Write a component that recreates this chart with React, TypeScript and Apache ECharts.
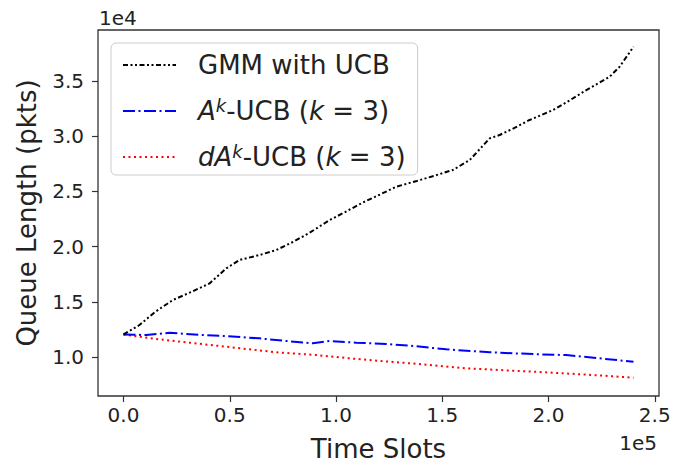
import React, { useEffect, useRef } from 'react';
import * as echarts from 'echarts';

const FONT = 'DejaVu Sans';
const TEXT = '#222222';

const seriesNames = ['GMM with UCB', 'Ak-UCB (k=3)', 'dAk-UCB (k=3)'];

const xGmm = [0, 7500, 15000, 23200, 32000, 40500, 48400, 54600, 64000, 71900, 80000, 87600, 97000, 104000, 112700, 120500, 128400, 138000, 146000, 155000, 162900, 172300, 177000, 184000, 191100, 202100, 210000, 217800, 228800, 233500, 240000];
const yGmm = [12050, 12900, 14100, 15160, 15900, 16670, 18030, 18790, 19240, 19690, 20450, 21260, 22400, 23100, 24000, 24700, 25430, 25950, 26400, 26940, 27840, 29800, 30110, 30750, 31470, 32370, 33250, 34180, 35390, 36300, 38100];

const xAk = [0, 10700, 21700, 37300, 48400, 64000, 75000, 89100, 97000, 109500, 123700, 136200, 151900, 172300, 183300, 195900, 208400, 224100, 240000];
const yAk = [12050, 11990, 12200, 11990, 11900, 11690, 11480, 11240, 11450, 11300, 11180, 11000, 10700, 10430, 10340, 10240, 10180, 9880, 9570];

const xDAk = [0, 16900, 31100, 48400, 71900, 90700, 106400, 123700, 140900, 161300, 183300, 202100, 220900, 240000];
const yDAk = [12050, 11600, 11300, 10930, 10430, 10180, 9880, 9600, 9340, 8980, 8760, 8580, 8370, 8130];

const xTicks = [0, 50000, 100000, 150000, 200000, 250000];
const yTicks = [10000, 15000, 20000, 25000, 30000, 35000];

const zip = (xs: number[], ys: number[]) => xs.map((x, i) => [x, ys[i]]);

const legendRich: Record<string, string> = {
  'GMM with UCB': '{sp| }{n|GMM with UCB}',
  'Ak-UCB (k=3)': '{sp| }{i|A}{sup|k}{n|-UCB (}{i|k}{n| = 3)}',
  'dAk-UCB (k=3)': '{sp| }{i|dA}{sup|k}{n|-UCB (}{i|k}{n| = 3)}',
};

export default function App() {
  const ref = useRef<HTMLDivElement>(null);
  useEffect(() => {
    const chart = echarts.init(ref.current!, null, { renderer: 'svg' });
    const option: any = {
      animation: false,
      backgroundColor: '#ffffff',
      textStyle: { fontFamily: FONT },
      grid: {
        left: 98, right: 14, top: 30, bottom: 69,
        show: true, borderColor: '#333333', borderWidth: 1.3,
        backgroundColor: 'transparent',
        outerBoundsMode: 'none',
      },
      xAxis: {
        type: 'value', min: -12000, max: 252000,
        splitLine: { show: false },
        axisLine: { show: false, onZero: false },
        axisTick: { show: true, length: 6, lineStyle: { color: '#333333', width: 1.2 }, customValues: xTicks },
        axisLabel: {
          customValues: xTicks,
          formatter: (v: number) => (v / 1e5).toFixed(1),
          fontSize: 20, color: TEXT, margin: 9, fontFamily: FONT,
        },
        name: 'Time Slots', nameLocation: 'middle', nameGap: 40,
        nameTextStyle: { fontSize: 26, color: TEXT, fontFamily: FONT },
      },
      yAxis: {
        type: 'value', min: 6470, max: 39620,
        splitLine: { show: false },
        axisLine: { show: false, onZero: false },
        axisTick: { show: true, length: 6, lineStyle: { color: '#333333', width: 1.2 }, customValues: yTicks },
        axisLabel: {
          customValues: yTicks,
          formatter: (v: number) => (v / 1e4).toFixed(1),
          fontSize: 20, color: TEXT, margin: 14, fontFamily: FONT,
        },
        name: 'Queue Length (pkts)', nameLocation: 'middle', nameGap: 58,
        nameTextStyle: { fontSize: 26, color: TEXT, fontFamily: FONT },
      },
      legend: {
        orient: 'vertical', left: 111, top: 43,
        padding: [7, 12, 3, 11],
        itemGap: 16, itemWidth: 53, itemHeight: 14,
        backgroundColor: 'rgba(255,255,255,0.8)',
        borderColor: '#cccccc', borderWidth: 1, borderRadius: 5,
        itemStyle: { opacity: 0 },
        data: seriesNames,
        formatter: (name: string) => legendRich[name],
        textStyle: {
          fontSize: 26, color: TEXT, fontFamily: FONT, lineHeight: 30,
          rich: {
            sp: { width: 17, fontSize: 26, lineHeight: 30 },
            n: { fontSize: 26, color: TEXT, fontFamily: FONT, lineHeight: 30 },
            i: { fontSize: 26, color: TEXT, fontFamily: FONT, fontStyle: 'italic', lineHeight: 30 },
            sup: { fontSize: 18, color: TEXT, fontFamily: FONT, fontStyle: 'italic', lineHeight: 18, verticalAlign: 'top' },
          },
        },
      },
      graphic: [
        { type: 'text', left: 99, top: 8, style: { text: '1e4', fontSize: 20, fill: TEXT, fontFamily: FONT } },
        { type: 'text', right: 16, top: 433, style: { text: '1e5', fontSize: 20, fill: TEXT, fontFamily: FONT } },
      ],
      series: [
        {
          name: seriesNames[0], type: 'line', data: zip(xGmm, yGmm), symbol: 'none', smooth: false,
          lineStyle: { color: '#000000', width: 2, type: [5, 2.5, 2, 2.5, 2, 2.5] },
          itemStyle: { color: '#000000' }, z: 3,
        },
        {
          name: seriesNames[1], type: 'line', data: zip(xAk, yAk), symbol: 'none', smooth: false,
          lineStyle: { color: '#0000ff', width: 2, type: [12, 3.5, 2, 3.5] },
          itemStyle: { color: '#0000ff' }, z: 2,
        },
        {
          name: seriesNames[2], type: 'line', data: zip(xDAk, yDAk), symbol: 'none', smooth: false,
          lineStyle: { color: '#ff0000', width: 2, type: [2, 3.5] },
          itemStyle: { color: '#ff0000' }, z: 1,
        },
      ],
    };
    chart.setOption(option);
    return () => chart.dispose();
  }, []);
  return <div ref={ref} style={{ width: 673, height: 465, position: 'absolute', left: 0, top: 0 }} />;
}
